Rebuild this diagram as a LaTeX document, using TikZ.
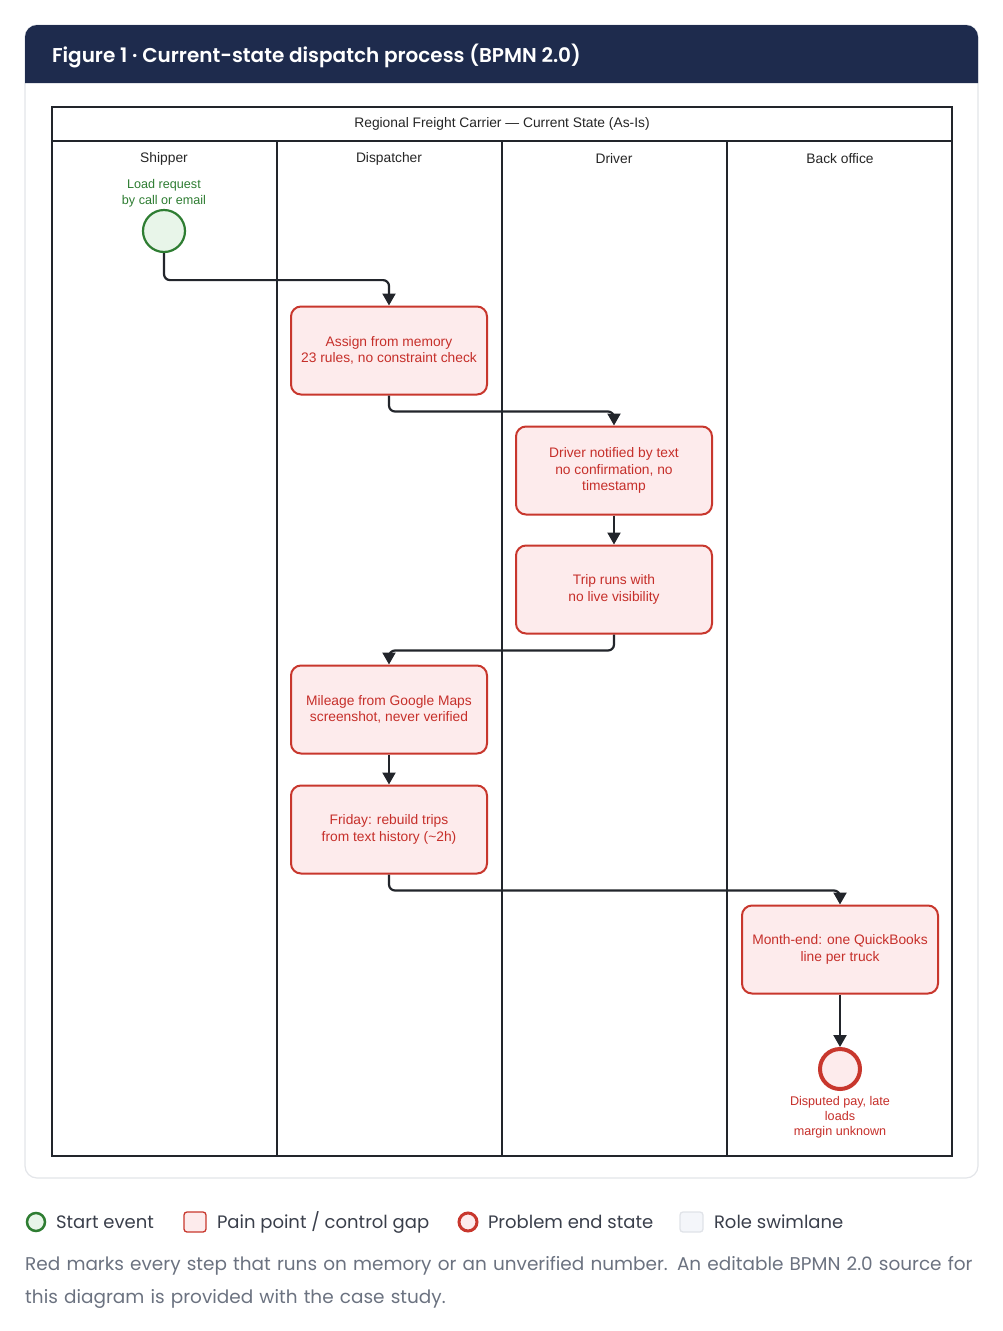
\documentclass[tikz,border=0pt]{standalone}
\usepackage{fontspec}
\setmainfont{Liberation Sans}
\newfontfamily\uifont{Poppins}
\newfontfamily\titlefont{Poppins SemiBold}
\usetikzlibrary{arrows.meta}
\definecolor{navy}{HTML}{1E2B4D}
\definecolor{cardline}{HTML}{E3E5E9}
\definecolor{painfill}{HTML}{FDEBEC}
\definecolor{painline}{HTML}{C8372D}
\definecolor{paintext}{HTML}{C62F2A}
\definecolor{startline}{HTML}{2E7D32}
\definecolor{startfill}{HTML}{E8F5E9}
\definecolor{inkline}{HTML}{22252B}
\definecolor{legendtext}{HTML}{3A3F4B}
\definecolor{captiontext}{HTML}{6B7280}
\definecolor{lanefill}{HTML}{F4F6FA}
\definecolor{laneline}{HTML}{E0E3E8}
\tikzset{
  task/.style={draw=painline, line width=2pt, fill=painfill, rounded corners=10pt,
    minimum width=196pt, minimum height=88pt, inner sep=0pt, align=center,
    text=paintext, font=\fontsize{13.8}{16.5}\selectfont},
  flow/.style={draw=inkline, line width=2.2pt, rounded corners=6pt,
    -{Triangle[length=12pt,width=13pt]}},
  lanelabel/.style={font=\fontsize{13.8}{16}\selectfont, text=black!85},
  legend/.style={anchor=west, font=\uifont\fontsize{18}{22}\selectfont, text=legendtext},
}
\begin{document}
\begin{tikzpicture}[x=1pt,y=-1pt]
\useasboundingbox (0,0) rectangle (1003,1331);
% card
\draw[cardline, line width=1.2pt, fill=white, rounded corners=12pt] (25,25) rectangle (978,1178);
\fill[navy] (25,83) {[rounded corners=12pt] -- (25,25) -- (978,25)} -- (978,83) -- cycle;
\node[anchor=west, text=white, font=\titlefont\fontsize{20}{24}\selectfont] (title) at (48.5,56) {Figure 1 · Current-state dispatch process (BPMN 2.0)};
% pool
\draw[inkline, line width=1.6pt] (52,107) rectangle (952,1156);
\draw[inkline, line width=1.6pt] (52,141) -- (952,141);
\foreach \x in {277,502,727} \draw[inkline, line width=1.6pt] (\x,141) -- (\x,1156);
\node[font=\fontsize{13.8}{16}\selectfont, text=black!85] (pooltitle) at (502,123.5) {Regional Freight Carrier — Current State (As-Is)};
\node[lanelabel] (l1) at (164,158.5) {Shipper};
\node[lanelabel] (l2) at (389,158.5) {Dispatcher};
\node[lanelabel] (l3) at (614,158.5) {Driver};
\node[lanelabel] (l4) at (840,158.5) {Back office};
% start
\node[circle, draw=startline, line width=2.2pt, fill=startfill, minimum size=42pt, inner sep=0pt] (s) at (164,231) {};
\node[text=startline, align=center, font=\fontsize{12.6}{16}\selectfont] (slabel) at (164,193) {Load request\\by call or email};
% tasks
\node[task] (t1) at (389,350.5) {Assign from memory\\23 rules, no constraint check};
\node[task] (t2) at (614,470.5) {Driver notified by text\\no confirmation, no\\timestamp};
\node[task] (t3) at (614,589.5) {Trip runs with\\no live visibility};
\node[task] (t4) at (389,709.5) {Mileage from Google Maps\\screenshot, never verified};
\node[task] (t5) at (389,829.5) {Friday: rebuild trips\\from text history (\textasciitilde 2h)};
\node[task] (t6) at (840,949.5) {Month-end: one QuickBooks\\line per truck};
% end
\node[circle, draw=painline, line width=4pt, fill=painfill, minimum size=40pt, inner sep=0pt] (e) at (840,1069) {};
\node[text=paintext, align=center, font=\fontsize{12.6}{15}\selectfont] (elabel) at (840,1117) {Disputed pay, late\\loads\\margin unknown};
% flows
\draw[flow] (s.south) -- ++(0,27) -| (t1.north);
\draw[flow] (t1.south) -- ++(0,16) -| (t2.north);
\draw[flow] (t2.south) -- (t3.north);
\draw[flow] (t3.south) -- ++(0,16) -| (t4.north);
\draw[flow] (t4.south) -- (t5.north);
\draw[flow] (t5.south) -- ++(0,16) -| (t6.north);
\draw[flow] (t6.south) -- (e.north);
% legend
\node[circle, draw=startline, line width=2.5pt, fill=startfill, minimum size=18pt, inner sep=0pt] (k1) at (36,1222) {};
\node[legend] (k1t) at (52.5,1222) {Start event};
\draw[painline, line width=1.3pt, fill=painfill, rounded corners=3pt] (184,1212) rectangle (206,1232);
\node[legend] (k2t) at (213.5,1222) {Pain point / control gap};
\node[circle, draw=painline, line width=3pt, fill=painfill, minimum size=18pt, inner sep=0pt] (k3) at (468,1222) {};
\node[legend] (k3t) at (484.5,1222) {Problem end state};
\draw[laneline, line width=1.3pt, fill=lanefill, rounded corners=3pt] (680,1212) rectangle (703,1232);
\node[legend] (k4t) at (710.5,1222) {Role swimlane};
\node[anchor=west, text=captiontext, font=\uifont\fontsize{18.45}{33}\selectfont, align=left, text width=980pt] (cap) at (21.7,1282) {Red marks every step that runs on memory or an unverified number. An editable BPMN 2.0 source for\\this diagram is provided with the case study.};
\end{tikzpicture}
\end{document}
